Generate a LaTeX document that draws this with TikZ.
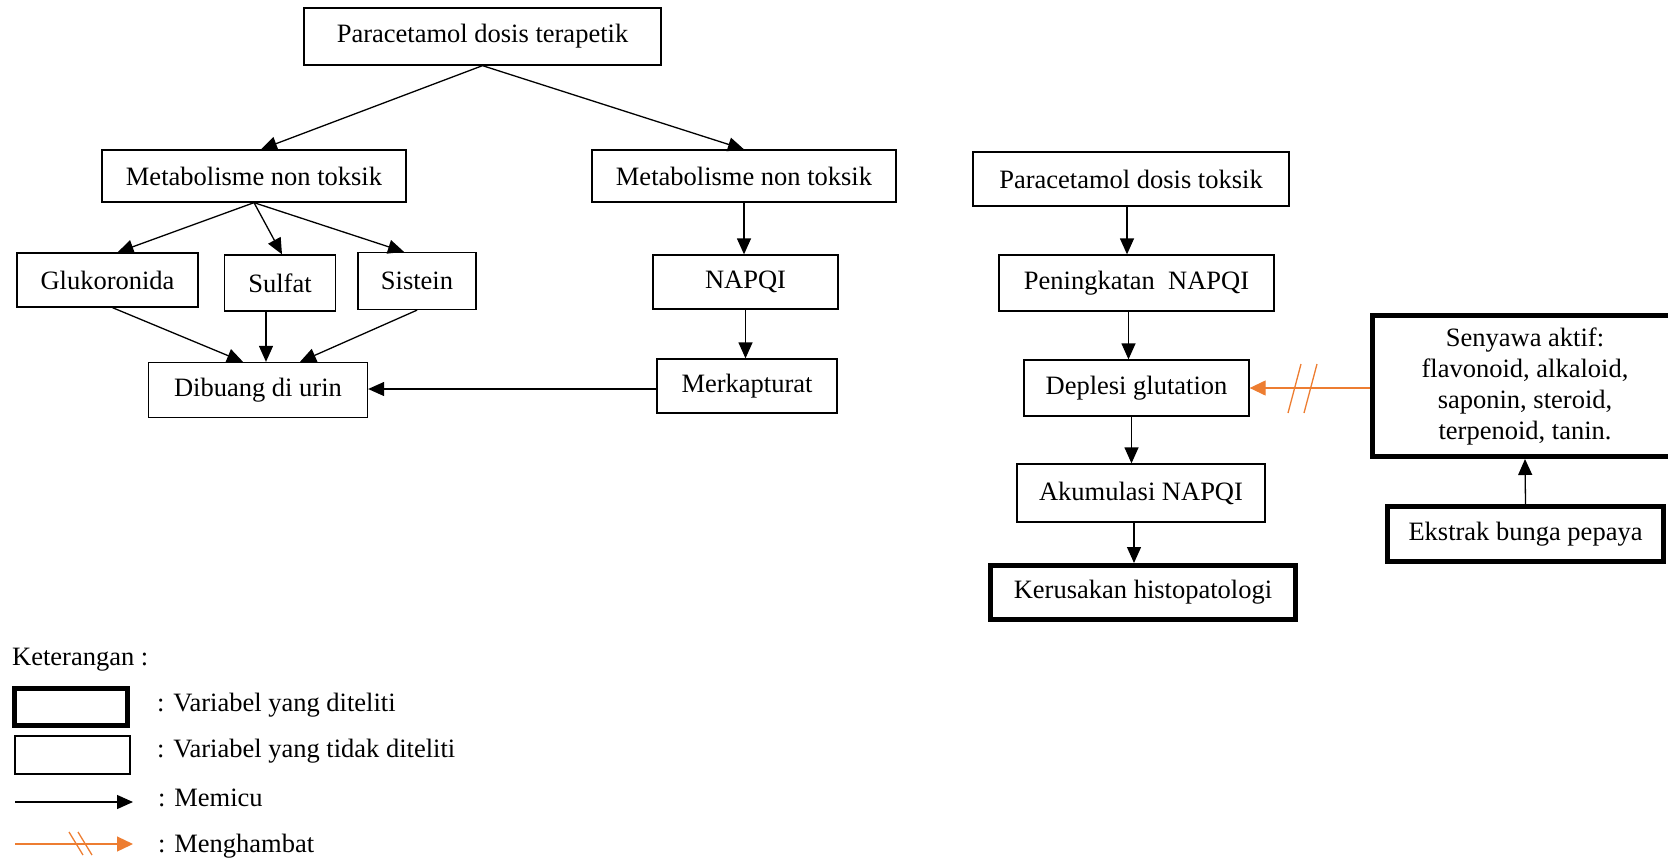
\documentclass[tikz,border=0pt]{standalone}
\usepackage{fontspec}
\setmainfont{Liberation Serif}
\usepackage{xcolor}
\usepackage{tikz}
\usetikzlibrary{arrows.meta,positioning,calc}
\definecolor{porange}{HTML}{ED7D31}

\begin{document}
\begin{tikzpicture}[x=1pt,y=-1pt,
    font=\fontsize{26.5}{31}\selectfont,
    box/.style={draw,line width=1.3pt,inner sep=0pt,align=center},
    varbox/.style={draw,line width=5pt,inner sep=0pt,align=center},
    lgtext/.style={anchor=base west,inner sep=0pt},
    memicu/.style={line width=1.3pt,-{Triangle[length=16pt,width=14pt]}},
    hambat/.style={porange,line width=1.3pt,-{Triangle[length=16pt,width=15pt]}}]
  \useasboundingbox (0,0) rectangle (1668,857);

  \node[box,minimum width=357pt,minimum height=57pt] (terapi) at (482.5,36.5) {Paracetamol dosis terapetik};
  \node[box,minimum width=304pt,minimum height=52pt] (metaA) at (254,176) {Metabolisme non toksik};
  \node[box,minimum width=304pt,minimum height=52pt] (metaB) at (744,176) {Metabolisme non toksik};
  \node[box,minimum width=181pt,minimum height=54pt] (gluk) at (107.5,280) {Glukoronida};
  \node[box,minimum width=111pt,minimum height=56pt] (sulfat) at (280,283) {Sulfat};
  \node[box,minimum width=118pt,minimum height=57pt] (sistein) at (417,281) {Sistein};
  \node[box,minimum width=219pt,minimum height=55pt] (urin) at (258,390) {Dibuang di urin};
  \node[box,minimum width=185pt,minimum height=54pt] (napqi) at (745.5,282) {NAPQI};
  \node[box,minimum width=180pt,minimum height=54pt] (merkap) at (747,386) {Merkapturat};

  \node[box,minimum width=316pt,minimum height=54pt] (toksik) at (1131,179) {Paracetamol dosis toksik};
  \node[box,minimum width=275pt,minimum height=56pt] (naik) at (1136.5,283) {Peningkatan~~NAPQI};
  \node[box,minimum width=225pt,minimum height=56pt] (deplesi) at (1136.5,388) {Deplesi glutation};
  \node[box,minimum width=248pt,minimum height=58pt] (akum) at (1141,493) {Akumulasi NAPQI};
  \node[varbox,minimum width=305pt,minimum height=54pt] (rusak) at (1143,592.5) {Kerusakan histopatologi};
  \node[varbox,minimum width=305pt,minimum height=141pt] (senyawa) at (1525,386)
    {Senyawa aktif:\\ flavonoid, alkaloid,\\ saponin, steroid,\\ terpenoid, tanin.};
  \node[varbox,minimum width=276pt,minimum height=55pt] (ekstrak) at (1525.5,534) {Ekstrak bunga pepaya};

  \draw[memicu] (terapi.south) -- ([xshift=7pt]metaA.north);
  \draw[memicu] (terapi.south) -- (metaB.north);
  \draw[memicu] (metaA.south) -- ([xshift=10pt]gluk.north);
  \draw[memicu] (metaA.south) -- ([xshift=2pt]sulfat.north);
  \draw[memicu] (metaA.south) -- ([xshift=-13pt]sistein.north);
  \draw[memicu] ([xshift=5pt]gluk.south) -- ([xshift=-15pt]urin.north);
  \draw[memicu] ([xshift=-14pt]sulfat.south) -- ([xshift=-14pt]sulfat.south |- urin.north);
  \draw[memicu] (sistein.south) -- ([xshift=42pt]urin.north);
  \draw[memicu] (metaB.south) -- (metaB.south |- napqi.north);
  \draw[memicu] (napqi.south) -- (napqi.south |- merkap.north);
  \draw[memicu] ([yshift=-3pt]merkap.west) -- ([yshift=-3pt]merkap.west -| urin.east);

  \draw[memicu] ([xshift=-4pt]toksik.south) -- ([xshift=-4pt]toksik.south |- naik.north);
  \draw[memicu] ([xshift=-8pt]naik.south) -- ([xshift=-8pt]naik.south |- deplesi.north);
  \draw[memicu] ([xshift=-5pt]deplesi.south) -- ([xshift=-5pt]deplesi.south |- akum.north);
  \draw[memicu] ([xshift=-7pt]akum.south) -- ([xshift=-7pt]akum.south |- rusak.north);
  \draw[memicu] (ekstrak.north) -- (senyawa.south);
  \draw[hambat] (senyawa.west |- deplesi.east) -- (deplesi.east);
  \draw[porange,line width=1.3pt] (1288,413) -- (1301,364) (1304,413) -- (1317,364);

  \node[lgtext] (ket) at (12,665) {Keterangan :};
  \node[varbox,minimum width=113pt,minimum height=37pt] (lgdit) at (71,707) {};
  \node[box,minimum width=115pt,minimum height=38pt] (lgtdk) at (72.5,755) {};
  \node[lgtext] (txdit) at (157,711) {: Variabel yang diteliti};
  \node[lgtext] (txtdk) at (157,757) {: Variabel yang tidak diteliti};
  \coordinate (lgm1) at (15,802);
  \coordinate (lgm2) at (133,802);
  \coordinate (lgh1) at (15,844);
  \coordinate (lgh2) at (133,844);
  \draw[memicu] (lgm1) -- (lgm2);
  \draw[hambat] (lgh1) -- (lgh2);
  \draw[porange,line width=1.3pt] (69,832) -- (83,855) (78,832) -- (92,855);
  \node[lgtext] (txmem) at (158,806) {: Memicu};
  \node[lgtext] (txham) at (158,852) {: Menghambat};
\end{tikzpicture}
\end{document}
